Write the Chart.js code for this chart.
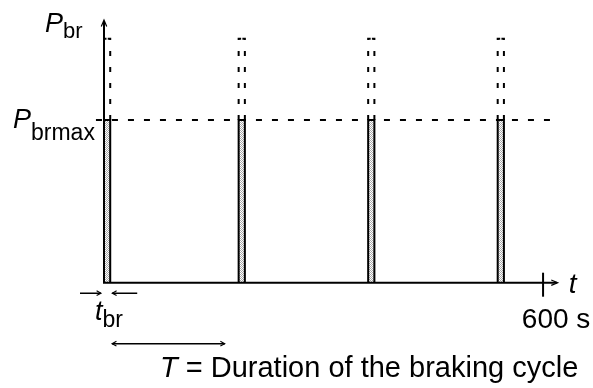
<!DOCTYPE html>
<html>
<head>
<meta charset="utf-8">
<script src="https://cdn.jsdelivr.net/npm/chart.js@4.4.0/dist/chart.umd.min.js"></script>
<style>
  body { margin: 0; background: #fff; }
  #wrap { width: 593px; height: 388px; }
</style>
</head>
<body>
<div id="wrap"><canvas id="myChart"></canvas></div>
<script>
  // braking pulses: start of each pulse (s) and its length t_br (s)
  var pulseStarts = [0, 184, 361, 538];
  var pulseWidth = 8.5;
  // power levels, relative to P_brmax
  var pBrMax = 1;
  var pBrPeak = 1.5;
  // time axis tick
  var tickValues = [600];
  var tickLabels = ["600 s"];
  // axis ends and the span of the T arrow (s)
  var tEnd = 620;
  var pEnd = 1.615;
  var limitSpan = [-11, 620];
  var cycleSpan = [11, 165];

  var FONT = '"Liberation Sans", Arial, sans-serif';

  // grey checker fill for the pulses
  function makeHatch() {
    var c = document.createElement('canvas');
    c.width = 2; c.height = 2;
    var g = c.getContext('2d');
    g.fillStyle = '#fff';
    g.fillRect(0, 0, 2, 2);
    g.fillStyle = '#a8a8a8';
    g.fillRect(0, 0, 1, 1);
    g.fillRect(1, 1, 1, 1);
    return g.createPattern(c, 'repeat');
  }
  var hatch = makeHatch();

  var datasets = [];
  pulseStarts.forEach(function (t0) {
    var t1 = t0 + pulseWidth;
    // solid pulse up to P_brmax
    datasets.push({
      data: [{x: t0, y: 0}, {x: t0, y: pBrMax}, {x: t1, y: pBrMax}, {x: t1, y: 0}],
      fill: 'origin',
      backgroundColor: hatch,
      borderColor: '#000',
      borderWidth: 2
    });
    // dashed peak above P_brmax, left and right halves
    datasets.push({
      data: [{x: t0, y: pBrMax}, {x: t0, y: pBrPeak}, {x: t0 + pulseWidth * 0.4, y: pBrPeak}],
      borderDash: [5, 11]
    });
    datasets.push({
      data: [{x: t1, y: pBrMax}, {x: t1, y: pBrPeak}, {x: t1 - pulseWidth * 0.4, y: pBrPeak}],
      borderDash: [5, 11]
    });
  });
  // P_brmax level
  datasets.push({
    data: [{x: limitSpan[0], y: pBrMax}, {x: limitSpan[1], y: pBrMax}],
    borderDash: [6, 10]
  });

  function arrowHead(ctx, x, y, ang, len, spread) {
    ctx.beginPath();
    ctx.moveTo(x - len * Math.cos(ang - spread), y - len * Math.sin(ang - spread));
    ctx.lineTo(x, y);
    ctx.lineTo(x - len * Math.cos(ang + spread), y - len * Math.sin(ang + spread));
    ctx.stroke();
  }

  function subLabel(ctx, x, y, main, sub, size, subSize, drop) {
    ctx.font = 'italic ' + size + 'px ' + FONT;
    ctx.fillText(main, x, y);
    var w = ctx.measureText(main).width;
    ctx.font = subSize + 'px ' + FONT;
    ctx.fillText(sub, x + w, y + drop);
  }

  var axesPlugin = {
    id: 'axes',
    afterDatasetsDraw: function (chart) {
      var ctx = chart.ctx;
      var xs = chart.scales.x, ys = chart.scales.y;
      var x0 = xs.getPixelForValue(0), y0 = ys.getPixelForValue(0);
      var xe = xs.getPixelForValue(tEnd), ye = ys.getPixelForValue(pEnd);
      ctx.save();
      ctx.strokeStyle = '#000';
      ctx.fillStyle = '#000';
      ctx.lineWidth = 2;
      ctx.lineCap = 'butt';

      // axes
      ctx.beginPath();
      ctx.moveTo(x0, y0 + 1);
      ctx.lineTo(x0, ye + 1);
      ctx.moveTo(x0 - 1, y0);
      ctx.lineTo(xe - 1, y0);
      ctx.stroke();
      ctx.lineWidth = 1.2;
      arrowHead(ctx, x0, ye, -Math.PI / 2, 7, 0.4);
      arrowHead(ctx, xe, y0, 0, 7, 0.4);

      // ticks
      ctx.lineWidth = 2;
      tickValues.forEach(function (v, i) {
        var tx = xs.getPixelForValue(v);
        ctx.beginPath();
        ctx.moveTo(tx, y0 - 10);
        ctx.lineTo(tx, y0 + 14);
        ctx.stroke();
        ctx.font = '28px ' + FONT;
        ctx.textAlign = 'center';
        ctx.fillText(tickLabels[i], tx + 13, y0 + 45);
        ctx.textAlign = 'left';
      });

      // axis titles
      subLabel(ctx, x0 - 59, ye + 12, 'P', 'br', 27, 22, 6);
      subLabel(ctx, x0 - 91, ys.getPixelForValue(pBrMax) + 8, 'P', 'brmax', 27, 23, 12);
      ctx.font = 'italic 28px ' + FONT;
      ctx.fillText('t', xe + 11, y0 + 10);

      // t_br marker arrows
      var ay = y0 + 10.5;
      var bx1 = xs.getPixelForValue(pulseWidth);
      ctx.lineWidth = 1.5;
      ctx.beginPath();
      ctx.moveTo(x0 - 24, ay);
      ctx.lineTo(x0 - 3, ay);
      ctx.moveTo(bx1 + 2, ay);
      ctx.lineTo(bx1 + 27, ay);
      ctx.stroke();
      ctx.lineWidth = 1.1;
      arrowHead(ctx, x0 - 3, ay, 0, 5, 0.5);
      arrowHead(ctx, bx1 + 2, ay, Math.PI, 5, 0.5);
      subLabel(ctx, x0 - 9, y0 + 37, 't', 'br', 27, 23, 7);

      // T arrow and caption
      var cy = y0 + 61;
      var c1 = xs.getPixelForValue(cycleSpan[0]), c2 = xs.getPixelForValue(cycleSpan[1]);
      ctx.lineWidth = 1.5;
      ctx.beginPath();
      ctx.moveTo(c1, cy);
      ctx.lineTo(c2, cy);
      ctx.stroke();
      ctx.lineWidth = 1.1;
      arrowHead(ctx, c1, cy, Math.PI, 5, 0.5);
      arrowHead(ctx, c2, cy, 0, 5, 0.5);
      ctx.font = 'italic 29px ' + FONT;
      ctx.fillText('T', 160, y0 + 94);
      var tw = ctx.measureText('T').width;
      ctx.font = '29px ' + FONT;
      ctx.fillText(' = Duration of the braking cycle', 160 + tw, y0 + 94);
      ctx.restore();
    }
  };

  new Chart("myChart", {
    type: "scatter",
    data: { datasets: datasets },
    options: {
      responsive: true,
      maintainAspectRatio: false,
      animation: false,
      events: [],
      layout: { padding: { left: 104, right: 35.3, top: 20, bottom: 105.3 } },
      datasets: {
        scatter: {
          showLine: true,
          fill: false,
          tension: 0,
          pointRadius: 0,
          borderColor: '#000',
          borderWidth: 2,
          clip: false
        }
      },
      plugins: {
        legend: { display: false },
        tooltip: { enabled: false }
      },
      scales: {
        x: { type: 'linear', min: 0, max: tEnd, display: false },
        y: { type: 'linear', min: 0, max: pEnd, display: false }
      }
    },
    plugins: [axesPlugin]
  });
</script>
</body>
</html>
